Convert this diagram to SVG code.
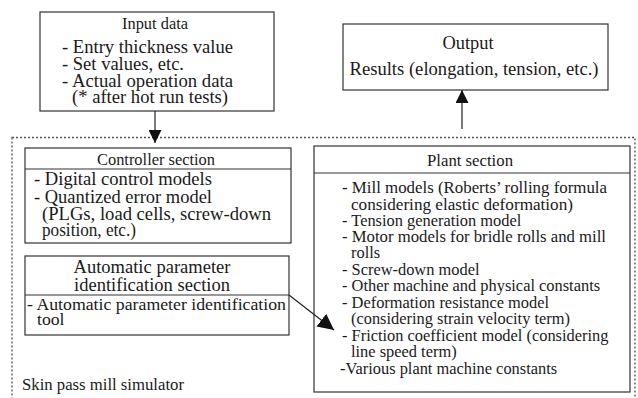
<svg xmlns="http://www.w3.org/2000/svg" width="638" height="398" viewBox="0 0 638 398" font-family="'Liberation Serif', 'Times New Roman', Times, serif">
<style>
.box{fill:#fff;stroke:#333;stroke-width:1.2}
.div{stroke:#333;stroke-width:1.2}
.dot{fill:none;stroke:#555;stroke-width:1.3;stroke-dasharray:2,2}
text{font-family:'Liberation Serif','Times New Roman',Times,serif;fill:#1a1a1a}
.h{font-size:16.5px;text-anchor:middle}
.hl{font-size:18.4px;text-anchor:middle}
.ti{font-size:18px}
.tc{font-size:18.2px}
.ta{font-size:17.7px}
.tp{font-size:16.4px}
.con{stroke:#222;stroke-width:1.2;fill:none}
</style>
<defs>
<marker id="ah" viewBox="0 0 10 10" refX="10" refY="5" markerWidth="13" markerHeight="13" markerUnits="userSpaceOnUse" orient="auto">
<path d="M0,0 L10,5 L0,10 Z" fill="#111"/>
</marker>
<marker id="ah2" viewBox="0 0 10 10" refX="10" refY="5" markerWidth="16" markerHeight="16" markerUnits="userSpaceOnUse" orient="auto">
<path d="M0,0 L10,5 L0,10 Z" fill="#111"/>
</marker>
</defs>
<rect class="dot" x="12" y="137.5" width="623" height="280"/>
<g id="input">
<rect class="box" x="40" y="12" width="234" height="99"/>
<text class="h" x="155" y="29" textLength="66" lengthAdjust="spacingAndGlyphs">Input data</text>
<text class="ti" x="62" y="53" textLength="171" lengthAdjust="spacingAndGlyphs">- Entry thickness value</text>
<text class="ti" x="62" y="70" textLength="122" lengthAdjust="spacingAndGlyphs">- Set values, etc.</text>
<text class="ti" x="62" y="87" textLength="171" lengthAdjust="spacingAndGlyphs">- Actual operation data</text>
<text class="ti" x="72" y="103" textLength="156" lengthAdjust="spacingAndGlyphs">(* after hot run tests)</text>
</g>
<g id="output">
<rect class="box" x="343" y="24" width="265" height="66"/>
<text class="hl" x="468" y="49">Output</text>
<text class="hl" x="474" y="75" textLength="249" lengthAdjust="spacingAndGlyphs">Results (elongation, tension, etc.)</text>
</g>
<g id="controller">
<rect class="box" x="25" y="148" width="266" height="95"/>
<line class="div" x1="25" y1="169" x2="291" y2="169"/>
<text class="h" x="156" y="165" textLength="118" lengthAdjust="spacingAndGlyphs">Controller section</text>
<text class="tc" x="34" y="185" textLength="178" lengthAdjust="spacingAndGlyphs">- Digital control models</text>
<text class="tc" x="34" y="203" textLength="178" lengthAdjust="spacingAndGlyphs">- Quantized error model</text>
<text class="tc" x="42" y="220" textLength="229" lengthAdjust="spacingAndGlyphs">(PLGs, load cells, screw-down</text>
<text class="tc" x="42" y="236" textLength="94" lengthAdjust="spacingAndGlyphs">position, etc.)</text>
</g>
<g id="autoparam">
<rect class="box" x="25" y="256" width="264" height="79"/>
<line class="div" x1="25" y1="295" x2="289" y2="295"/>
<text class="hl" x="152" y="273" textLength="157" lengthAdjust="spacingAndGlyphs">Automatic parameter</text>
<text class="hl" x="152" y="291" textLength="156" lengthAdjust="spacingAndGlyphs">identification section</text>
<text class="ta" x="27" y="310" textLength="259" lengthAdjust="spacingAndGlyphs">- Automatic parameter identification</text>
<text class="ta" x="37" y="325">tool</text>
</g>
<g id="plant">
<rect class="box" x="314" y="146" width="316" height="246"/>
<line class="div" x1="314" y1="173" x2="630" y2="173"/>
<text class="h" x="470" y="166" textLength="86" lengthAdjust="spacingAndGlyphs">Plant section</text>
<text class="tp" x="342" y="193" textLength="265" lengthAdjust="spacingAndGlyphs">- Mill models (Roberts’ rolling formula</text>
<text class="tp" x="351" y="210" textLength="222" lengthAdjust="spacingAndGlyphs">considering elastic deformation)</text>
<text class="tp" x="342" y="226">- Tension generation model</text>
<text class="tp" x="342" y="242" textLength="264" lengthAdjust="spacingAndGlyphs">- Motor models for bridle rolls and mill</text>
<text class="tp" x="351" y="258">rolls</text>
<text class="tp" x="342" y="275">- Screw-down model</text>
<text class="tp" x="342" y="291">- Other machine and physical constants</text>
<text class="tp" x="342" y="308">- Deformation resistance model</text>
<text class="tp" x="351" y="324">(considering strain velocity term)</text>
<text class="tp" x="342" y="341">- Friction coefficient model (considering</text>
<text class="tp" x="351" y="357">line speed term)</text>
<text class="tp" x="340" y="374">-Various plant machine constants</text>
</g>
<text id="simlabel" x="22" y="390" style="font-size:16.7px" textLength="162" lengthAdjust="spacingAndGlyphs">Skin pass mill simulator</text>
<g id="connectors">
<line class="con" x1="155" y1="111" x2="155" y2="143" marker-end="url(#ah)"/>
<line class="con" x1="462" y1="129" x2="462" y2="90" marker-end="url(#ah)"/>
<line class="con" x1="289" y1="295" x2="334" y2="330" marker-end="url(#ah2)"/>
</g>
</svg>
